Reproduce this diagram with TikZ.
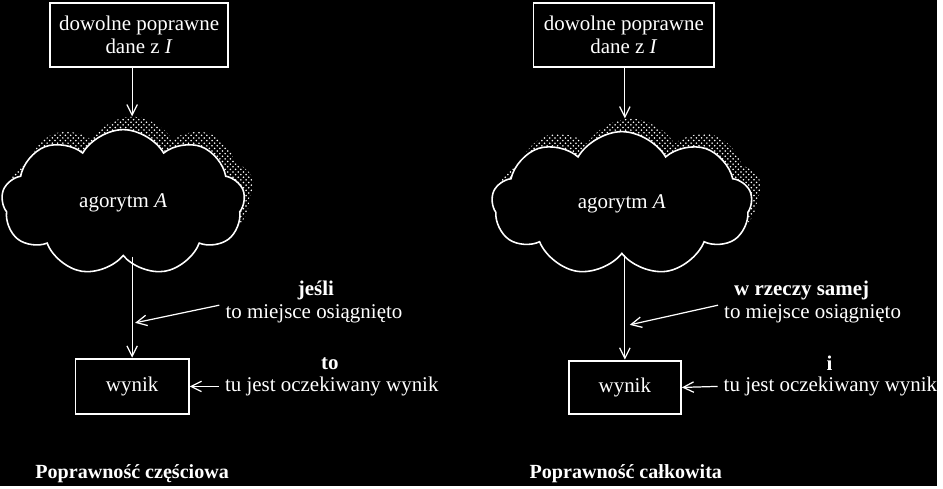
\documentclass[tikz,border=0pt]{standalone}
\usepackage{fontspec}
\setmainfont{Liberation Serif}
\usetikzlibrary{arrows.meta,shapes.symbols,patterns,positioning}

\begin{document}
\begin{tikzpicture}[x=0.02cm,y=-0.02cm,
    every node/.style={text=white,font=\fontsize{12}{13.5}\selectfont},
    ramka/.style={draw=white,line width=1.1pt,align=center,inner sep=0pt},
    chmura/.style={cloud,cloud puffs=9,cloud puff arc=120,cloud ignores aspect,
        draw=white,line width=0.9pt,fill=black},
    cien/.style={cloud,cloud puffs=9,cloud puff arc=120,cloud ignores aspect,
        pattern=crosshatch dots,pattern color=white},
    strz/.style={white,line width=0.7pt,-{Straight Barb[length=6pt,width=6pt]}},
    tytul/.style={font=\fontsize{11.5}{13}\selectfont\bfseries}]
    \fill[black] (0,0) rectangle (943,489);

    % czesciowa
    \node[ramka, minimum width=3.58cm, minimum height=1.28cm] (dane1) at (140,35) {dowolne poprawne\\dane z \textit{I}};
    \node[cien, minimum width=4.9cm, minimum height=2.94cm] (cien1) at (133,191) {};
    \node[chmura, minimum width=4.9cm, minimum height=2.94cm] (alg1) at (124,204) {agorytm \textit{A}};
    \node[ramka, minimum width=2.28cm, minimum height=1.12cm] (wynik1) at (133,389) {wynik};
    \node (jesli1) at (318,292) {\textbf{jeśli}};
    \node (miejsce1) at (316,316) {to miejsce osiągnięto};
    \node (to1) at (332,366) {\textbf{to}};
    \node (oczek1) at (334,389) {tu jest oczekiwany wynik};
    \node[tytul] (tyt1) at (133,477) {Poprawność częściowa};
    \coordinate (cel1) at (136,325);

    \draw[strz] (dane1.south -| wynik1.north) -- (cien1.north -| wynik1.north);
    \draw[strz] (alg1.south -| wynik1.north) -- (wynik1.north);
    \draw[strz] ([yshift=5pt]miejsce1.west) -- (cel1);
    \draw[strz] (oczek1.west) -- (wynik1.east);

    % calkowita
    \node[ramka, minimum width=3.64cm, minimum height=1.28cm] (dane2) at (628,35) {dowolne poprawne\\dane z \textit{I}};
    \node[cien, minimum width=5.24cm, minimum height=2.9cm] (cien2) at (635,192) {};
    \node[chmura, minimum width=5.24cm, minimum height=2.9cm] (alg2) at (626,205) {agorytm \textit{A}};
    \node[ramka, minimum width=2.26cm, minimum height=1.08cm] (wynik2) at (629,390) {wynik};
    \node (wrzeczy2) at (807,292) {\textbf{w rzeczy samej}};
    \node (miejsce2) at (818,316) {to miejsce osiągnięto};
    \node (i2) at (835,366) {\textbf{i}};
    \node (oczek2) at (836,389) {tu jest oczekiwany wynik};
    \node[tytul] (tyt2) at (630,477) {Poprawność całkowita};
    \coordinate (cel2) at (634,327);

    \draw[strz] (dane2.south -| wynik2.north) -- (cien2.north -| wynik2.north);
    \draw[strz] (alg2.south -| wynik2.north) -- (wynik2.north);
    \draw[strz] ([yshift=5pt]miejsce2.west) -- (cel2);
    \draw[strz] (oczek2.west) -- (wynik2.east);
\end{tikzpicture}
\end{document}
